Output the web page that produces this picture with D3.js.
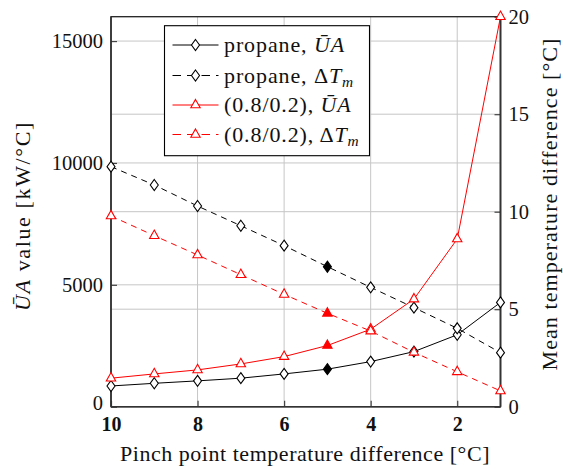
<!DOCTYPE html>
<html><head><meta charset="utf-8">
<script src="https://cdn.jsdelivr.net/npm/d3@7"></script>
<style>
body{margin:0;background:#fff;}
text{font-family:"Liberation Serif","DejaVu Serif",serif;fill:#111;}
</style></head>
<body><svg id="c" width="563" height="469"></svg>
<script>
const pinch = [10,9,8,7,6,5,4,3,2,1];
const propaneUA = [850,960,1060,1170,1345,1540,1850,2260,2950,4280];
const propaneDT = [12.31,11.37,10.29,9.28,8.26,7.18,6.12,5.08,4.02,2.77];
const mixUA = [1170,1345,1510,1755,2055,2510,3180,4415,6880,16000];
const mixDT = [9.78,8.77,7.78,6.77,5.76,4.79,3.88,2.79,1.79,0.81];
const xTicks = [10,8,6,4,2];
const leftTicks = [0,5000,10000,15000];
const rightTicks = [0,5,10,15,20];
const highlightX = 5;

const svg = d3.select("#c");
const L=111, R=500.5, T=16.7, B=406.7;
const x = d3.scaleLinear().domain([10,1]).range([L,R]);
const yL = d3.scaleLinear().domain([0,16000]).range([B,T]);
const yR = d3.scaleLinear().domain([0,20]).range([B,T]);

function fit(sel, target, size){
  sel.attr("font-size",size).attr("letter-spacing",0);
  const w = sel.node().getComputedTextLength();
  const n = sel.text().length;
  sel.attr("letter-spacing", Math.max(0,(target-w)/n));
}

const grid = svg.append("g").attr("stroke","#c6c6c6").attr("stroke-width",1);
xTicks.filter(d=>d!==10).forEach(d=>grid.append("line").attr("x1",x(d)).attr("x2",x(d)).attr("y1",T).attr("y2",B));
leftTicks.filter(d=>d>0).forEach(d=>grid.append("line").attr("x1",L).attr("x2",R).attr("y1",yL(d)).attr("y2",yL(d)));
rightTicks.filter(d=>d>0&&d<20).forEach(d=>grid.append("line").attr("x1",L).attr("x2",R).attr("y1",yR(d)).attr("y2",yR(d)));

const gx = svg.append("g").attr("transform",`translate(0,${B})`)
  .call(d3.axisBottom(x).tickValues(xTicks).tickSize(-6).tickPadding(10).tickFormat(d3.format("d")));
gx.selectAll("text").attr("font-size",20).attr("font-weight","bold").attr("dy","0.72em");
const gl = svg.append("g").attr("transform",`translate(${L},0)`)
  .call(d3.axisLeft(yL).tickValues(leftTicks).tickSize(-6).tickPadding(8).tickFormat(d3.format("d")));
gl.selectAll("text").attr("font-size",20.5);
const gr = svg.append("g").attr("transform",`translate(${R},0)`)
  .call(d3.axisRight(yR).tickValues(rightTicks).tickSize(-6).tickPadding(8).tickFormat(d3.format("d")));
gr.selectAll("text").attr("font-size",20.5);
[gx,gl,gr].forEach(g=>{g.select(".domain").remove();g.selectAll(".tick line").attr("stroke","#444").attr("stroke-width",1.2);g.selectAll("text").attr("fill","#111");});
gl.select(".tick text").attr("dy","0.15em");

svg.append("rect").attr("x",L).attr("y",T).attr("width",R-L).attr("height",B-T).attr("fill","none").attr("stroke","#222").attr("stroke-width",1.3);
svg.append("line").attr("x1",L).attr("x2",L).attr("y1",T).attr("y2",B).attr("stroke","#333").attr("stroke-width",1.6);
svg.append("line").attr("x1",R).attr("x2",R).attr("y1",T).attr("y2",B).attr("stroke","#333").attr("stroke-width",1.8);
svg.append("line").attr("x1",L).attr("x2",R).attr("y1",B).attr("y2",B).attr("stroke","#333").attr("stroke-width",1.6);

const diamond = "M0,-5.5L4,0L0,5.5L-4,0Z";
const tri = "M0,-5.6L4.7,2.8L-4.7,2.8Z";

const series = [
  {vals:propaneUA, y:yL, color:"#000", dash:null, mark:diamond},
  {vals:propaneDT, y:yR, color:"#000", dash:"6,5", mark:diamond},
  {vals:mixUA, y:yL, color:"#f00", dash:null, mark:tri},
  {vals:mixDT, y:yR, color:"#f00", dash:"6,5", mark:tri},
];
const plot = svg.append("g");
series.forEach(s=>{
  const data = pinch.map((p,i)=>({p,v:s.vals[i]}));
  plot.append("path").datum(data).attr("fill","none").attr("stroke",s.color).attr("stroke-width",1)
    .attr("stroke-dasharray",s.dash).attr("d",d3.line().x(d=>x(d.p)).y(d=>s.y(d.v)));
});
series.forEach(s=>{
  const data = pinch.map((p,i)=>({p,v:s.vals[i]}));
  plot.selectAll(null).data(data).join("path")
    .attr("transform",d=>`translate(${x(d.p)},${s.y(d.v)})`)
    .attr("d",s.mark).attr("stroke",s.color).attr("stroke-width",1.1)
    .attr("fill",d=>d.p===highlightX?s.color:"#fff");
});

const lg = svg.append("g");
lg.append("rect").attr("x",164.5).attr("y",25.7).attr("width",205).attr("height",130).attr("fill","#fff").attr("stroke","#000").attr("stroke-width",1.1);
const labels = [
  {pre:"propane, ", kind:"UA"},
  {pre:"propane, ", kind:"DT"},
  {pre:"(0.8/0.2), ", kind:"UA"},
  {pre:"(0.8/0.2), ", kind:"DT"},
];
const rowsY=[45,75.5,105,134.5];
const lgTexts=[];
series.forEach((s,i)=>{
  const yy=rowsY[i];
  lg.append("line").attr("x1",172.5).attr("x2",218.5).attr("y1",yy).attr("y2",yy).attr("stroke",s.color).attr("stroke-width",1).attr("stroke-dasharray",s.dash?"8.5,6":null);
  lg.append("path").attr("transform",`translate(195.5,${yy})`).attr("d",s.mark).attr("stroke",s.color).attr("stroke-width",1.1).attr("fill","#fff");
  const t=lg.append("text").attr("x",224).attr("y",yy+7).attr("font-size",22);
  t.append("tspan").text(labels[i].pre);
  if(labels[i].kind==="UA"){
    t.append("tspan").attr("font-style","italic").text("ŪA");
  } else {
    t.append("tspan").text("Δ");
    t.append("tspan").attr("font-style","italic").text("T");
    t.append("tspan").attr("font-style","italic").attr("font-size","0.7em").attr("dy",4).text("m");
  }
  lgTexts.push(t);
});
fit(lgTexts[0],121,22);
const ls = lgTexts[0].attr("letter-spacing");
lgTexts.forEach(t=>t.attr("letter-spacing",ls));

const xt = svg.append("text").attr("x",305).attr("y",461).attr("text-anchor","middle").text("Pinch point temperature difference [°C]");
fit(xt,370,22);
const lt = svg.append("text").attr("transform","translate(30,216) rotate(-90)").attr("text-anchor","middle");
lt.append("tspan").attr("font-style","italic").text("ŪA");
lt.append("tspan").text(" value [kW/°C]");
fit(lt,190,22);
const rt = svg.append("text").attr("transform","translate(557,204) rotate(-90)").attr("text-anchor","middle").text("Mean temperature difference [°C]");
fit(rt,333,22);
</script></body></html>
